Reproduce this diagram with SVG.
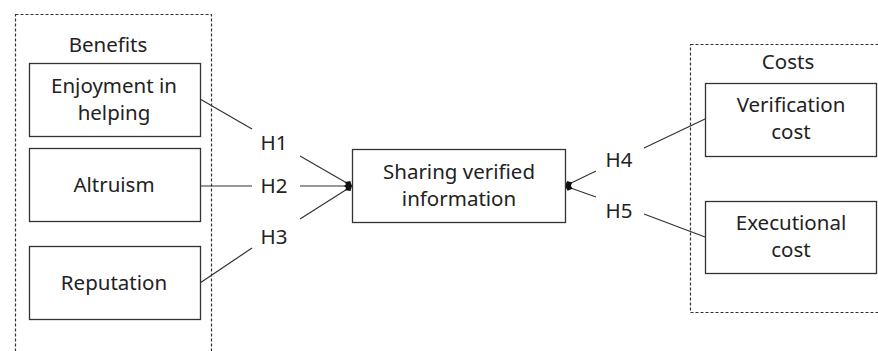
<svg xmlns="http://www.w3.org/2000/svg" width="878" height="351" viewBox="0 0 878 351">
<style>
.grp{fill:none;stroke:#333;stroke-width:1.2;stroke-dasharray:3 2}
.box{fill:#fff;stroke:#333;stroke-width:1.3}
.t{font-family:"Noto Sans","Open Sans",sans-serif;font-size:20.5px;fill:#222;text-anchor:middle}
.c{fill:none;stroke:#333;stroke-width:1.2}
</style>
<defs>
<marker id="ah" viewBox="0 0 8 8" refX="8" refY="4" markerWidth="8" markerHeight="8" markerUnits="userSpaceOnUse" orient="auto">
<path d="M0,4 L4,0.5 L8,4 L4,7.5 Z" fill="#111"/>
</marker>
</defs>
<rect width="878" height="351" fill="#fff"/>
<g id="benefits">
<rect class="grp" x="15.5" y="14.5" width="196" height="345"/>
<text class="t" x="108" y="52">Benefits</text>
</g>
<g id="costs">
<rect class="grp" x="690.5" y="44.5" width="195" height="268"/>
<text class="t" x="788" y="69">Costs</text>
</g>
<g id="connectors">
<line class="c" x1="200" y1="99" x2="252" y2="129"/>
<line class="c" x1="300" y1="156" x2="352" y2="186" marker-end="url(#ah)"/>
<line class="c" x1="200" y1="186" x2="252" y2="186"/>
<line class="c" x1="300" y1="186" x2="352" y2="186" marker-end="url(#ah)"/>
<line class="c" x1="200" y1="283" x2="252" y2="248"/>
<line class="c" x1="300" y1="219" x2="352" y2="186" marker-end="url(#ah)"/>
<line class="c" x1="705" y1="119" x2="644" y2="148"/>
<line class="c" x1="596" y1="171" x2="565" y2="186" marker-end="url(#ah)"/>
<line class="c" x1="705" y1="237" x2="644" y2="214"/>
<line class="c" x1="596" y1="197" x2="565" y2="186" marker-end="url(#ah)"/>
<text class="t" x="274" y="150">H1</text>
<text class="t" x="274" y="193">H2</text>
<text class="t" x="274" y="244">H3</text>
<text class="t" x="619" y="167">H4</text>
<text class="t" x="619" y="218">H5</text>
</g>
<g id="enjoyment">
<rect class="box" x="29.5" y="63.5" width="171" height="73"/>
<text class="t" x="114" y="93">Enjoyment in</text>
<text class="t" x="114" y="120">helping</text>
</g>
<g id="altruism">
<rect class="box" x="29.5" y="148.5" width="171" height="73"/>
<text class="t" x="114" y="192">Altruism</text>
</g>
<g id="reputation">
<rect class="box" x="29.5" y="246.5" width="171" height="73"/>
<text class="t" x="114" y="290">Reputation</text>
</g>
<g id="sharing">
<rect class="box" x="352.5" y="149.5" width="213" height="73"/>
<text class="t" x="459" y="179">Sharing verified</text>
<text class="t" x="459" y="206">information</text>
</g>
<g id="verification">
<rect class="box" x="705.5" y="83.5" width="171" height="73"/>
<text class="t" x="791" y="112">Verification</text>
<text class="t" x="791" y="139">cost</text>
</g>
<g id="executional">
<rect class="box" x="705.5" y="201.5" width="171" height="72"/>
<text class="t" x="791" y="230">Executional</text>
<text class="t" x="791" y="257">cost</text>
</g>
</svg>
